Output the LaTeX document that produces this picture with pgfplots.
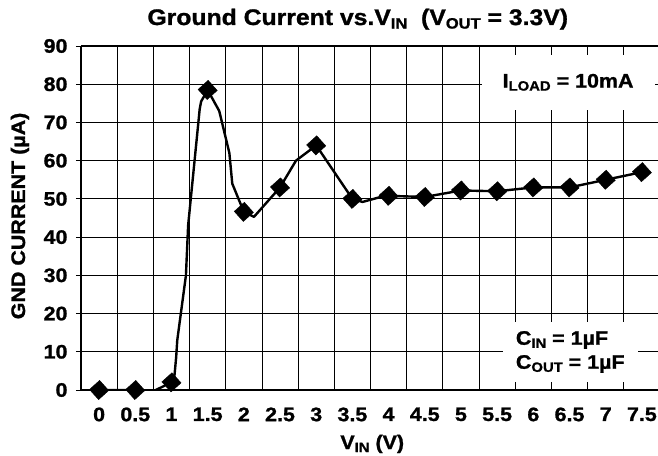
\documentclass[border=0pt]{standalone}
\usepackage{pgfplots}
\pgfplotsset{compat=1.18}
\usepackage{fontspec}
\setmainfont{Liberation Sans}[FakeStretch=1.1, BoldFeatures={FakeBold=1.2}]
% small lowered subscript, as in the datasheet figure
\newcommand\sub[2][13.5]{\raisebox{-0.3ex}{\fontsize{#1}{#1}\selectfont #2}}
\newcommand\lbl{\fontsize{19.5}{23}\selectfont\bfseries}

\begin{document}
\begin{tikzpicture}
\begin{axis}[
    scale only axis,
    width=579pt, height=344pt,
    xmin=-0.25, xmax=7.75, ymin=0, ymax=90,
    axis y line*=left, axis x line*=box,
    axis line style={line width=2.4pt},
    xtick={0,0.5,...,7.5},
    xticklabels={0,0.5,1,1.5,2,2.5,3,3.5,4,4.5,5,5.5,6,6.5,7,7.5},
    minor xtick={0.25,0.75,...,7.25},
    ytick={0,10,...,90},
    xmajorgrids=false, xminorgrids=true, ymajorgrids=true,
    grid style={black, line width=0.8pt},
    minor grid style={black, line width=0.8pt},
    x tick style={draw=none},
    minor tick length=0pt,
    y tick style={black, line width=0.8pt},
    tick align=outside, major tick length=5pt,
    /pgf/number format/assume math mode=true,
    tick label style={font=\lbl},
    yticklabel style={xshift=-5pt},
    xticklabel style={yshift=-9pt},
    title={Ground Current vs.V\sub[15]{IN}\ \ (V\sub[15]{OUT} = 3.3V)},
    title style={font=\fontsize{22.5}{26}\selectfont\bfseries, at={(0.478,1)}, anchor=base, yshift=15pt},
    xlabel={V\sub{IN} (V)},
    xlabel style={font=\lbl, at={(0.503,0)}, anchor=base, yshift=-59pt},
    ylabel={GND CURRENT (µA)},
    ylabel style={font=\lbl, at={(0,0.506)}, anchor=base, yshift=56pt},
]
% curve as drawn between the measured points
\addplot[black, line width=2.4pt, line join=round, mark=none] coordinates {
    (0,0) (0.5,0) (0.73,-0.5) (1,2) (1.04,3.5) (1.065,8.6) (1.08,13)
    (1.2,30) (1.23,43) (1.39,73.5) (1.41,75.5) (1.5,78.5) (1.66,73)
    (1.8,62) (1.84,54) (2,46.6) (2.14,45.3) (2.5,53) (2.72,60) (3,64)
    (3.5,50) (3.64,49.2) (3.87,50.4) (4,50.8) (4.5,50.5) (5,52.2) (5.5,52)
    (6,53) (6.5,53) (7,55) (7.5,57)
};
% measured points
\addplot[only marks, mark=square*, mark size=6.8pt, black,
         mark options={rotate=42}] coordinates {
    (0,0) (0.5,0) (1,2) (1.5,78.5) (2,46.6) (2.5,53) (3,64) (3.5,50)
    (4,50.8) (4.5,50.5) (5,52.2) (5.5,52) (6,53) (6.5,53) (7,55) (7.5,57)
};
\node[fill=white, minimum width=173pt, minimum height=55pt, font=\lbl]
    at (axis cs:6.48,80.5) {I\sub{LOAD} = 10mA};
\node[fill=white, minimum width=135pt, minimum height=60pt, font=\lbl,
      align=left, inner sep=0pt] at (axis cs:6.51,9.95)
    {C\sub{IN} = 1µF\\[1pt] C\sub{OUT} = 1µF};
\end{axis}
\pgfresetboundingbox
\useasboundingbox (-81pt,-65pt) rectangle (577pt,390pt);
\end{tikzpicture}
\end{document}
